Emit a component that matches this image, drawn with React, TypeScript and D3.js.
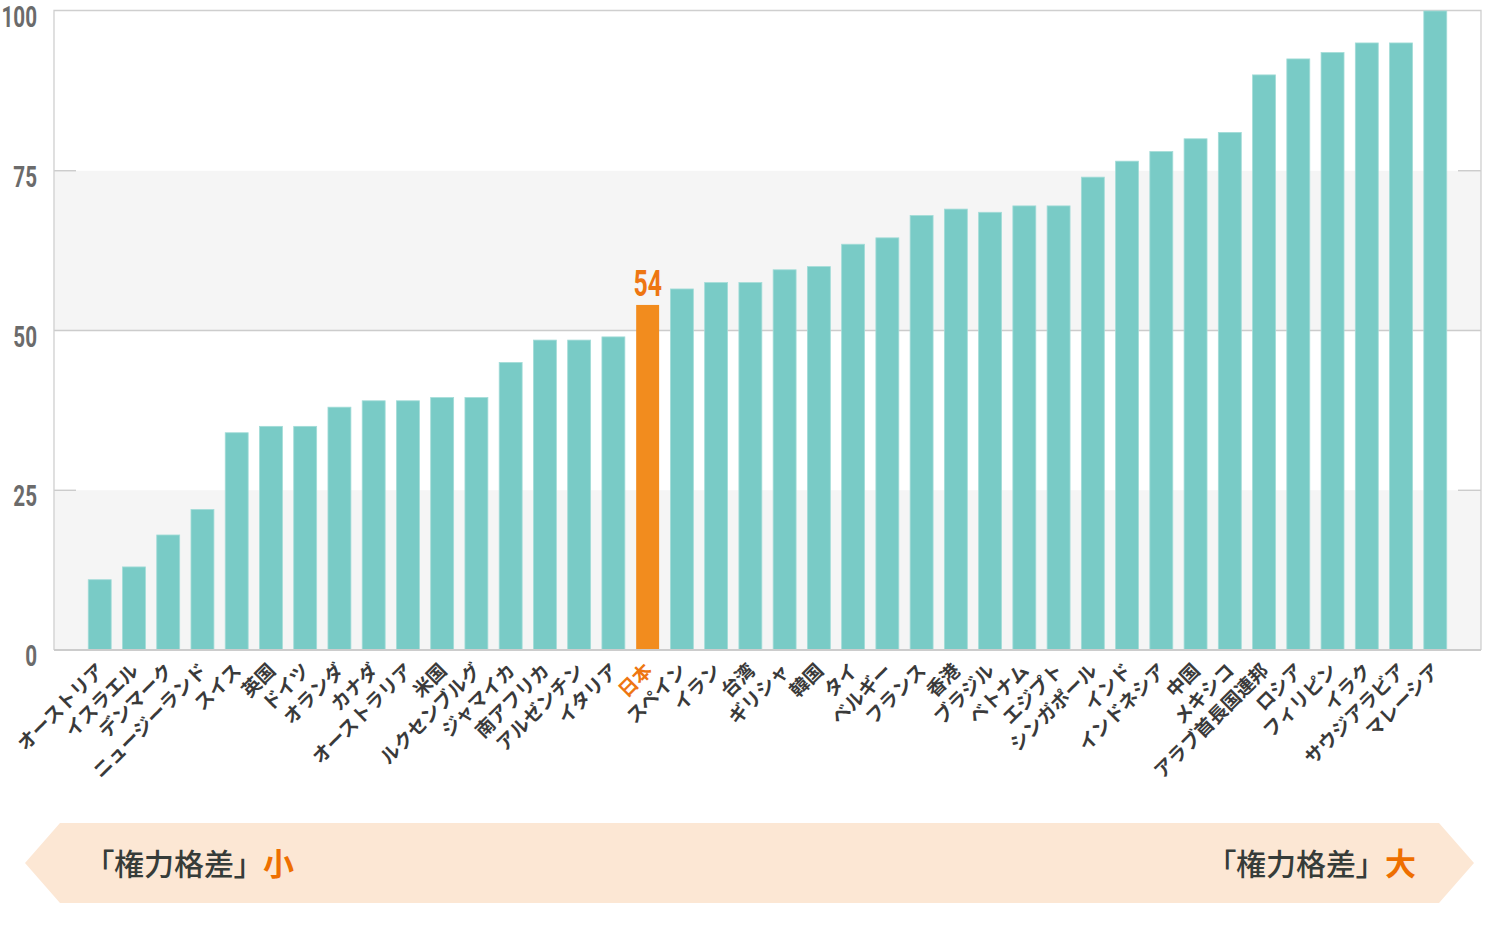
import React from "react";
import * as d3 from "d3";

// 権力格差指数（国別）
const countries = [
  "オーストリア", "イスラエル", "デンマーク", "ニュージーランド", "スイス",
  "英国", "ドイツ", "オランダ", "カナダ", "オーストラリア",
  "米国", "ルクセンブルグ", "ジャマイカ", "南アフリカ", "アルゼンチン",
  "イタリア", "日本", "スペイン", "イラン", "台湾",
  "ギリシャ", "韓国", "タイ", "ベルギー", "フランス",
  "香港", "ブラジル", "ベトナム", "エジプト", "シンガポール",
  "インド", "インドネシア", "中国", "メキシコ", "アラブ首長国連邦",
  "ロシア", "フィリピン", "イラク", "サウジアラビア", "マレーシア",
];
const values = [
  11, 13, 18, 22, 34,
  35, 35, 38, 39, 39,
  39.5, 39.5, 45, 48.5, 48.5,
  49, 54, 56.5, 57.5, 57.5,
  59.5, 60, 63.5, 64.5, 68,
  69, 68.5, 69.5, 69.5, 74,
  76.5, 78, 80, 81, 90,
  92.5, 93.5, 95, 95, 100,
];
const yTicks = [0, 25, 50, 75, 100];
const highlight = "日本";

const W = 1486;
const H = 940;
const left = 54;
const right = 1481;
const top = 11;
const bottom = 650;

// 細身の数字は横方向に縮めて再現
const numFont = "Roboto, 'Liberation Sans', sans-serif";
const jpFont = "'Noto Sans CJK JP', sans-serif";

export default function App() {
  const x = d3.scaleBand<string>().domain(countries).range([left, right]).paddingInner(0.33).paddingOuter(1);
  const y = d3.scaleLinear().domain([0, 100]).range([bottom, top]);

  // 帯（0-25, 50-75 が薄いグレー）
  const bands = [[0, 25], [50, 75]];
  const banner = `M25,863 L60,823 L1439,823 L1474,863 L1439,903 L60,903 Z`;

  return (
    <svg width={W} height={H} style={{ position: "absolute", left: 0, top: 0, background: "#fff" }}>
      {bands.map(([a, b]) => (
        <rect key={a} x={left} y={y(b)} width={right - left} height={y(a) - y(b)} fill="#f5f5f5" />
      ))}
      {/* 50 は全幅、25/75 は両端のみ */}
      <line x1={left} x2={right} y1={y(50)} y2={y(50)} stroke="#cccccc" strokeWidth={1.5} />
      {[25, 75].map((t) => (
        <g key={t}>
          <line x1={left} x2={left + 22} y1={y(t)} y2={y(t)} stroke="#c4c4c4" strokeWidth={1.2} />
          <line x1={right - 23} x2={right} y1={y(t)} y2={y(t)} stroke="#c4c4c4" strokeWidth={1.2} />
        </g>
      ))}
      <path d={`M${left},${bottom} V${top - 0.5} H${right} V${bottom}`} fill="none" stroke="#cfcfcf" strokeWidth={1.3} />

      {countries.map((c, i) => (
        <rect
          key={c}
          x={x(c)}
          y={y(values[i])}
          width={x.bandwidth()}
          height={bottom - y(values[i])}
          fill={c === highlight ? "#f28c1e" : "#79cbc6"}
          stroke={c === highlight ? "none" : "#a3dcd8"}
          strokeWidth={0.8}
        />
      ))}
      <line x1={left} x2={right} y1={bottom} y2={bottom} stroke="#cccccc" strokeWidth={2.2} />

      {yTicks.map((t) => (
        <text
          key={t}
          transform={`translate(37,${y(t) + 16}) scale(0.7,1)`}
          textAnchor="end"
          fontFamily={numFont}
          fontWeight={700}
          fontSize={29.5}
          fill="#6b6b6b"
        >
          {t}
        </text>
      ))}

      {countries.map((c, i) =>
        c === highlight ? (
          <text
            key={"v" + c}
            transform={`translate(${(x(c) ?? 0) + x.bandwidth() / 2},296) scale(0.68,1)`}
            textAnchor="middle"
            fontFamily={numFont}
            fontWeight={700}
            fontSize={36.5}
            fill="#ee7612"
          >
            {values[i]}
          </text>
        ) : null
      )}

      {countries.map((c) => (
        <text
          key={"l" + c}
          transform={`translate(${(x(c) ?? 0) + x.bandwidth() / 2 + 1},667) rotate(-45)`}
          textAnchor="end"
          dy="0.35em"
          fontFamily={jpFont}
          fontWeight={700}
          fontSize={19}
          fill={c === highlight ? "#ee7612" : "#3a3a3a"}
        >
          {c}
        </text>
      ))}

      <path d={banner} fill="#fce7d4" />
      <text x={99} y={875} fontFamily={jpFont} fontWeight={500} fontSize={30} fill="#363c39" style={{ fontFeatureSettings: "'palt'" }}>
        「権力格差」
        <tspan dx={14} fontWeight={700} fontSize={31} fill="#ee6f00">小</tspan>
      </text>
      <text x={1221} y={875} fontFamily={jpFont} fontWeight={500} fontSize={30} fill="#363c39" style={{ fontFeatureSettings: "'palt'" }}>
        「権力格差」
        <tspan dx={14} fontWeight={700} fontSize={31} fill="#ee6f00">大</tspan>
      </text>
    </svg>
  );
}
